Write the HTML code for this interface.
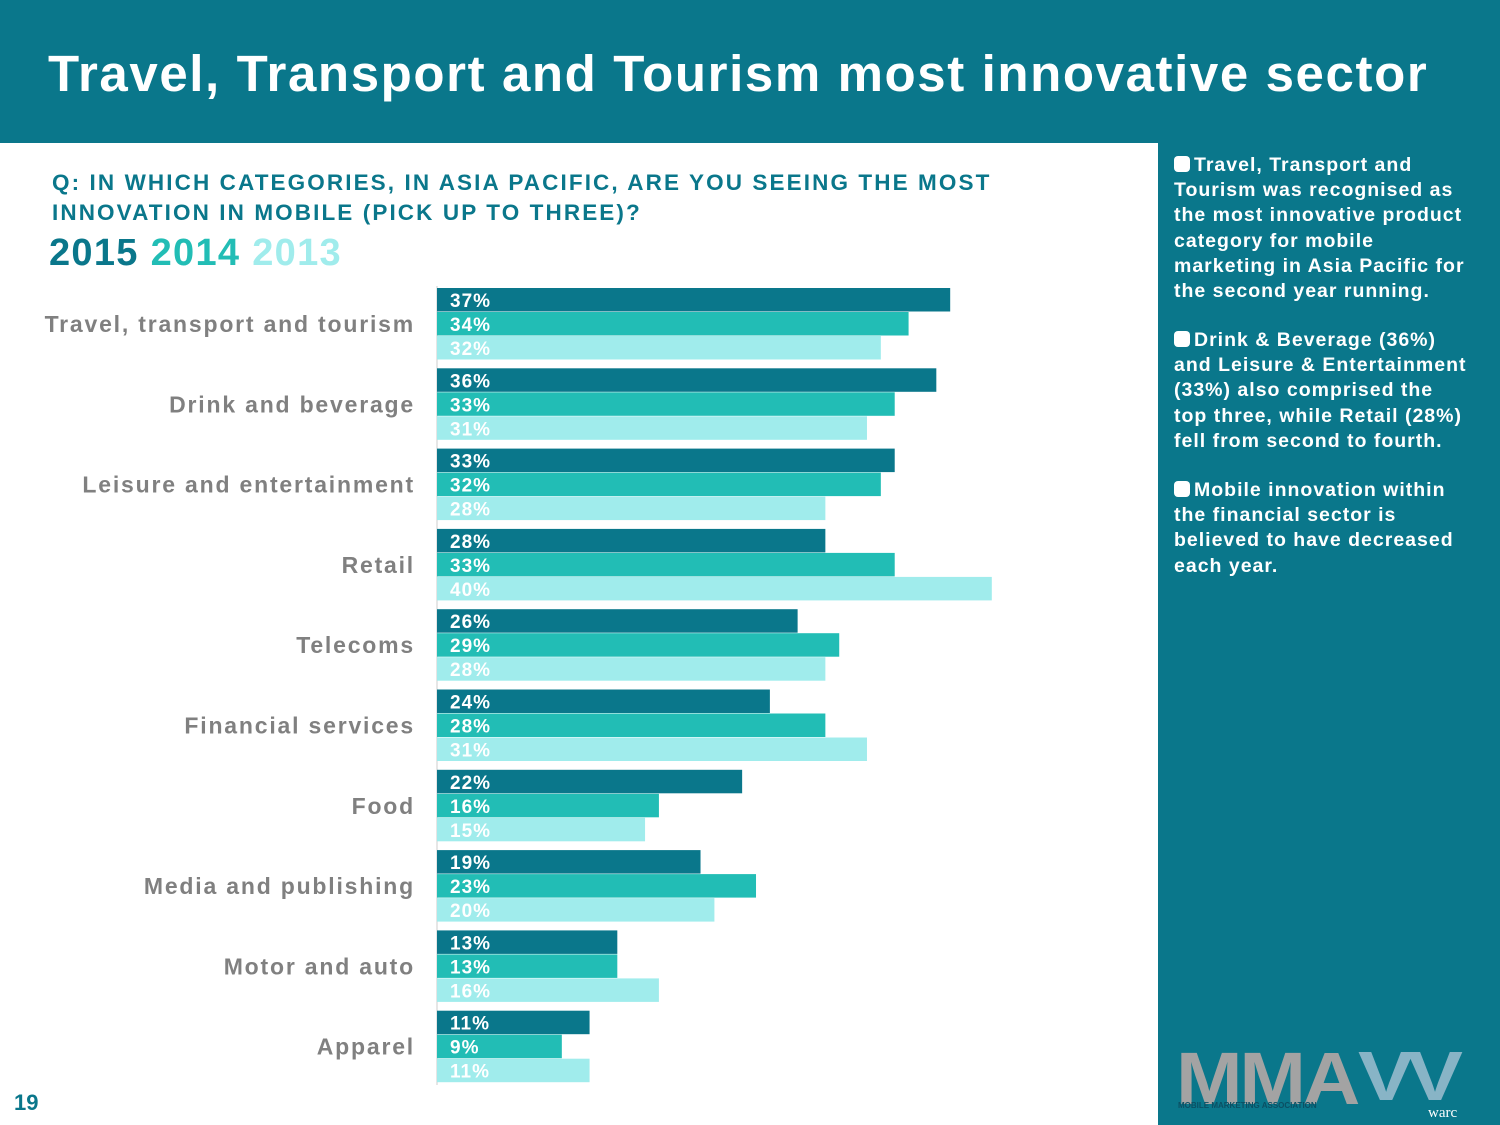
<!DOCTYPE html>
<html><head><meta charset="utf-8">
<style>
body{margin:0;width:1500px;height:1125px;background:#fff;font-family:"Liberation Sans",sans-serif;position:relative;overflow:hidden}
#hdr{position:absolute;left:0;top:0;width:1500px;height:143px;background:#0A778B}
#title{position:absolute;left:48px;top:44px;color:#fff;font-weight:bold;font-size:51px;letter-spacing:1.6px;white-space:nowrap}
#side{position:absolute;left:1158px;top:143px;width:342px;height:982px;background:#0A778B}
.note{position:absolute;left:16px;color:#fff;font-weight:bold;font-size:19.5px;line-height:25.2px;letter-spacing:1px;white-space:nowrap}
.dot{display:inline-block;width:16px;height:16px;background:#fff;border-radius:4px;vertical-align:-1px;margin-right:4px}
#q{position:absolute;left:52px;top:168px;color:#0A778B;font-weight:bold;font-size:22.5px;line-height:30px;letter-spacing:2.1px;white-space:nowrap}
#yrs{position:absolute;left:49px;top:232px;font-weight:bold;font-size:38px;letter-spacing:1.3px}
#pg{position:absolute;left:14px;top:1090px;color:#0A778B;font-weight:bold;font-size:22px}
</style></head><body>
<div id="hdr"><div id="title">Travel, Transport and Tourism most innovative sector</div></div>
<div id="q">Q: IN WHICH CATEGORIES, IN ASIA PACIFIC, ARE YOU SEEING THE MOST<br>INNOVATION IN MOBILE (PICK UP TO THREE)?</div>
<div id="yrs"><span style="color:#0A778B">2015</span> <span style="color:#22BDB5">2014</span> <span style="color:#A0ECEC">2013</span></div>
<svg id="chart" width="1158" height="1125" style="position:absolute;left:0;top:0"></svg>
<div id="side">
<div class="note" style="top:10px"><span class="dot"></span>Travel, Transport and<br>Tourism was recognised as<br>the most innovative product<br>category for mobile<br>marketing in Asia Pacific for<br>the second year running.</div>
<div class="note" style="top:185px"><span class="dot"></span>Drink &amp; Beverage (36%)<br>and Leisure &amp; Entertainment<br>(33%) also comprised the<br>top three, while Retail (28%)<br>fell from second to fourth.</div>
<div class="note" style="top:335px"><span class="dot"></span>Mobile innovation within<br>the financial sector is<br>believed to have decreased<br>each year.</div>
<div style="position:absolute;left:18px;top:893px;color:#A3A3A3;font-weight:bold;font-size:74px;letter-spacing:-3px;transform:scaleX(1.08);transform-origin:left">MMA</div>
<div style="position:absolute;left:20px;top:958px;color:#0B4F63;font-weight:bold;font-size:8px">MOBILE MARKETING ASSOCIATION</div>
<div style="position:absolute;left:200px;top:893px;color:#DDE;font-weight:bold;font-size:70px;letter-spacing:-6px;opacity:0.6;transform:scaleX(1.2);transform-origin:left">VV</div>
<div style="position:absolute;left:270px;top:962px;color:#fff;font-size:15px;font-family:'Liberation Serif',serif">warc</div>
</div>
<div id="pg">19</div>
<script>
const categories=["Travel, transport and tourism","Drink and beverage","Leisure and entertainment","Retail","Telecoms","Financial services","Food","Media and publishing","Motor and auto","Apparel"];
const v2015=[37,36,33,28,26,24,22,19,13,11];
const v2014=[34,33,32,33,29,28,16,23,13,9];
const v2013=[32,31,28,40,28,31,15,20,16,11];
const series=[v2015,v2014,v2013];
const seriesNames=["2015","2014","2013"];
const colors=["#0A778B","#22BDB5","#A0ECEC"];
const x0=437,pxPer=13.87,top0=288,groupH=80.3,barH=24;
const xs=v=>x0+v*pxPer;
const ys=(i,s)=>top0+i*groupH+s*barH;
const svg=document.getElementById('chart');
const NS='http://www.w3.org/2000/svg';
const axis=document.createElementNS(NS,'line');
axis.setAttribute('x1',x0);axis.setAttribute('x2',x0);axis.setAttribute('y1',286);axis.setAttribute('y2',1085);
axis.setAttribute('stroke','#ccc');axis.setAttribute('stroke-width','1');


svg.appendChild(axis);
categories.forEach((c,i)=>{
  const t=document.createElementNS(NS,'text');
  t.setAttribute('x',415);t.setAttribute('y',ys(i,1)+20);
  t.setAttribute('text-anchor','end');t.setAttribute('fill','#808080');
  t.setAttribute('font-weight','bold');t.setAttribute('font-size','23');
  t.setAttribute('letter-spacing','1.8');
  t.textContent=c;
  
  
  svg.appendChild(t);
  series.forEach((arr,s)=>{
    const r=document.createElementNS(NS,'rect');
    r.setAttribute('x',x0);r.setAttribute('y',ys(i,s));
    r.setAttribute('width',xs(arr[i])-x0);r.setAttribute('height',barH-0.5);
    r.setAttribute('fill',colors[s]);
    
    
    svg.appendChild(r);
    const l=document.createElementNS(NS,'text');
    l.setAttribute('x',x0+13);l.setAttribute('y',ys(i,s)+19);
    l.setAttribute('fill','#fff');l.setAttribute('font-weight','bold');l.setAttribute('font-size','19');
    l.setAttribute('letter-spacing','1');
    l.textContent=arr[i]+'%';
    
    
    svg.appendChild(l);
  });
});
</script>
</body></html>
